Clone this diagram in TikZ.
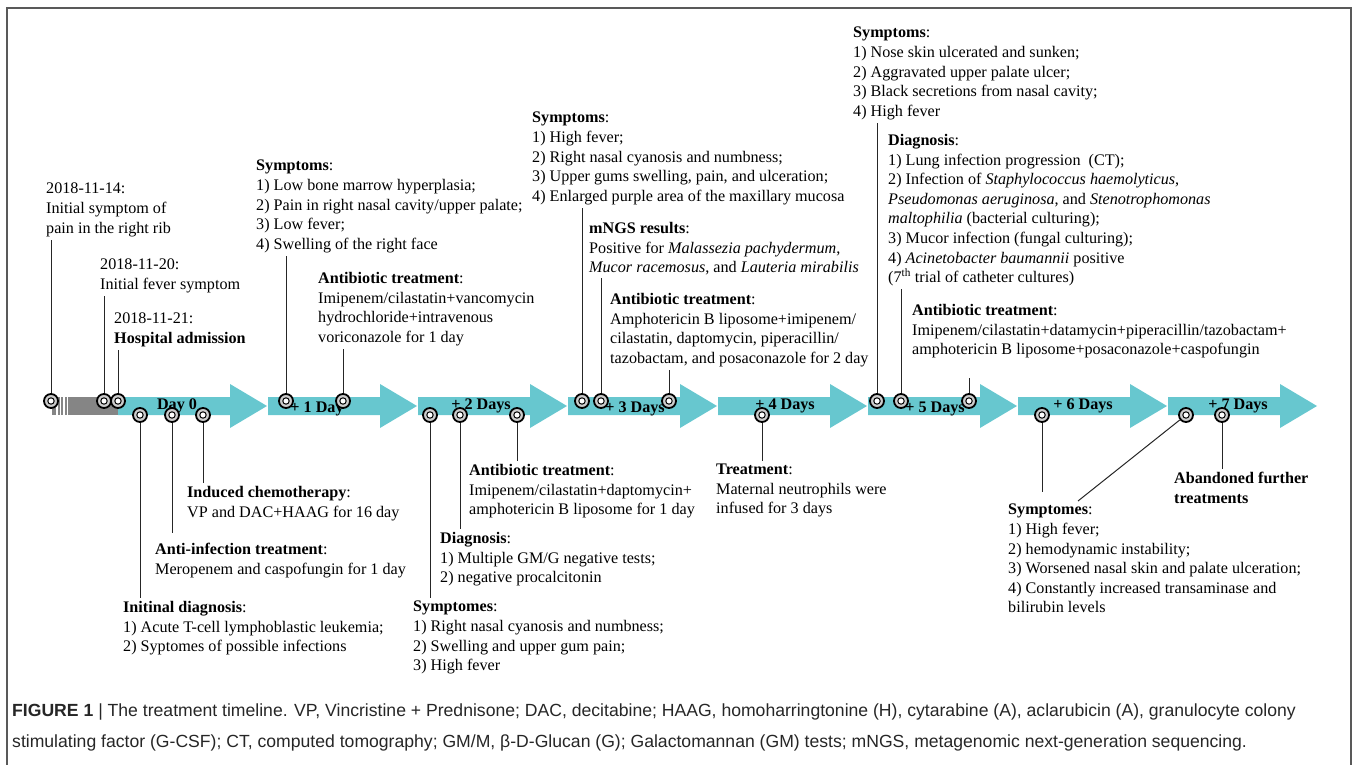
\documentclass[tikz,border=0pt]{standalone}
\usepackage{fontspec}
\setmainfont{Liberation Serif}
\setsansfont{Liberation Sans}
\definecolor{daycol}{HTML}{67C7CF}
\definecolor{pastcol}{HTML}{858585}
\tikzset{
  txt/.style={anchor=north west, align=left, inner sep=0pt,
    font=\fontsize{16.15}{19.6}\selectfont},
  daylab/.style={anchor=base, inner sep=0pt,
    font=\fontsize{16.15}{19.6}\selectfont\bfseries},
  ring/.style={circle, draw=black, line width=1.8pt, fill=gray!40,
    minimum size=14pt, inner sep=0pt,
    path picture={\draw[line width=1pt, fill=white]
      (path picture bounding box.center) circle (3.2pt);}},
  link/.style={line width=1pt, black!85, shorten >=3pt}
}

\begin{document}
\begin{tikzpicture}[x=1pt, y=-1pt]
\useasboundingbox (0,0) rectangle (1358,765);
\draw[line width=1.3pt, black!65] (7,765) -- (7,8) -- (1351,8) -- (1351,765);

% days before admission
\fill[pastcol] (52,397) rectangle (118,415);
\foreach \s in {57,60.5,64,67.5}
  \draw[white, line width=1.1pt] (\s,397) -- (\s,415);

% the days
\foreach \x/\lab/\lx/\ly in {118/Day 0/177/409, 268/+ 1 Day/317/412,
    418/+ 2 Days/481/409, 568/+ 3 Days/635/412, 718/+ 4 Days/785/409,
    868/+ 5 Days/935/412, 1018/+ 6 Days/1083/409, 1168/+ 7 Days/1238/409}
{
  \fill[daycol] (\x,397) -- ++(112,0) -- ++(0,-13) -- ++(37,22)
    -- ++(-37,22) -- ++(0,-13) -- ++(-112,0) -- cycle;
  \node[daylab] (lab\x) at (\lx,\ly) {\lab};
}

% events above the line
\node[txt] (t1) at (46,183) {2018-11-14:\\Initial symptom of\\pain in the right rib};
\node[txt] (t2) at (100,259) {2018-11-20:\\Initial fever symptom};
\node[txt] (t3) at (114,313) {2018-11-21:\\\textbf{Hospital admission}};
\node[txt] (t4) at (256,160) {\textbf{Symptoms}:\\1) Low bone marrow hyperplasia;\\2) Pain in right nasal cavity/upper palate;\\3) Low fever;\\4) Swelling of the right face};
\node[txt] (t5) at (318,272) {\textbf{Antibiotic treatment}:\\Imipenem/cilastatin+vancomycin\\hydrochloride+intravenous\\voriconazole for 1 day};
\node[txt] (t6) at (532,112) {\textbf{Symptoms}:\\1) High fever;\\2) Right nasal cyanosis and numbness;\\3) Upper gums swelling, pain, and ulceration;\\4) Enlarged purple area of the maxillary mucosa};
\node[txt] (t7) at (589,222) {\textbf{mNGS results}:\\Positive for \textit{Malassezia pachydermum},\\\textit{Mucor racemosus}, and \textit{Lauteria mirabilis}};
\node[txt] (t8) at (610,293) {\textbf{Antibiotic treatment}:\\Amphotericin B liposome+imipenem/\\cilastatin, daptomycin, piperacillin/\\tazobactam, and posaconazole for 2 day};
\node[txt] (t9) at (853,27) {\textbf{Symptoms}:\\1) Nose skin ulcerated and sunken;\\2) Aggravated upper palate ulcer;\\3) Black secretions from nasal cavity;\\4) High fever};
\node[txt] (t10) at (888,134) {\textbf{Diagnosis}:\\1) Lung infection progression~ (CT);\\2) Infection of \textit{Staphylococcus haemolyticus},\\\textit{Pseudomonas aeruginosa}, and \textit{Stenotrophomonas}\\\textit{maltophilia} (bacterial culturing);\\3) Mucor infection (fungal culturing);\\4) \textit{Acinetobacter baumannii} positive\\(7\textsuperscript{th} trial of catheter cultures)};
\node[txt] (t11) at (912,304) {\textbf{Antibiotic treatment}:\\Imipenem/cilastatin+datamycin+piperacillin/tazobactam+\\amphotericin B liposome+posaconazole+caspofungin};

% events below the line
\node[txt] (b1) at (187,486) {\textbf{Induced chemotherapy}:\\VP and DAC+HAAG for 16 day};
\node[txt] (b2) at (155,543) {\textbf{Anti-infection treatment}:\\Meropenem and caspofungin for 1 day};
\node[txt] (b3) at (123,601) {\textbf{Initinal diagnosis}:\\1) Acute T-cell lymphoblastic leukemia;\\2) Syptomes of possible infections};
\node[txt] (b4) at (469,464) {\textbf{Antibiotic treatment}:\\Imipenem/cilastatin+daptomycin+\\amphotericin B liposome for 1 day};
\node[txt] (b5) at (440,532) {\textbf{Diagnosis}:\\1) Multiple GM/G negative tests;\\2) negative procalcitonin};
\node[txt] (b6) at (413,601) {\textbf{Symptomes}:\\1) Right nasal cyanosis and numbness;\\2) Swelling and upper gum pain;\\3) High fever};
\node[txt] (b7) at (716,464) {\textbf{Treatment}:\\Maternal neutrophils were\\infused for 3 days};
\node[txt] (b8) at (1008,504) {\textbf{Symptomes}:\\1) High fever;\\2) hemodynamic instability;\\3) Worsened nasal skin and palate ulceration;\\4) Constantly increased transaminase and\\bilirubin levels};
\node[txt] (b9) at (1174,472) {\textbf{Abandoned further}\\\textbf{treatments}};

% markers
\foreach \n/\x in {r1/51, r2/104, r3/118, r4/286, r5/343, r6/582, r7/601,
    r8/669, r9/877, r10/901, r11/969}
  \node[ring] (\n) at (\x,401) {};
\foreach \n/\x in {q1/140, q2/172, q3/203, q4/430, q5/460, q6/517, q7/762,
    q8/1042, q9/1186, q10/1222}
  \node[ring] (\n) at (\x,415) {};

\foreach \a/\b in {r1/t1, r2/t2, r3/t3, r4/t4, r5/t5, r6/t6, r7/t7, r8/t8,
    r9/t9, r10/t10}
  \draw[link] (\a) -- (\a |- \b.south);
\draw[link, shorten >=20pt] (r11) -- (r11 |- t11.south);

\foreach \a/\b in {q1/b3, q3/b1, q4/b6, q5/b5, q6/b4, q7/b7, q10/b9}
  \draw[link] (\a) -- (\a |- \b.north);
\draw[link, shorten >=10pt] (q2) -- (q2 |- b2.north);
\draw[link, shorten >=12pt] (q8) -- (q8 |- b8.north);
\coordinate (d9) at (1078,501);
\draw[link, shorten >=0pt] (q9) -- (d9);

% caption
\node[txt, font=\sffamily\fontsize{17.6}{31}\selectfont, text=black!85]
  (cap) at (12,704) {\textbf{FIGURE 1} | The treatment timeline. VP, Vincristine + Prednisone; DAC, decitabine; HAAG, homoharringtonine (H), cytarabine (A), aclarubicin (A), granulocyte colony\\stimulating factor (G-CSF); CT, computed tomography; GM/M, β-D-Glucan (G); Galactomannan (GM) tests; mNGS, metagenomic next-generation sequencing.};
\end{tikzpicture}
\end{document}
